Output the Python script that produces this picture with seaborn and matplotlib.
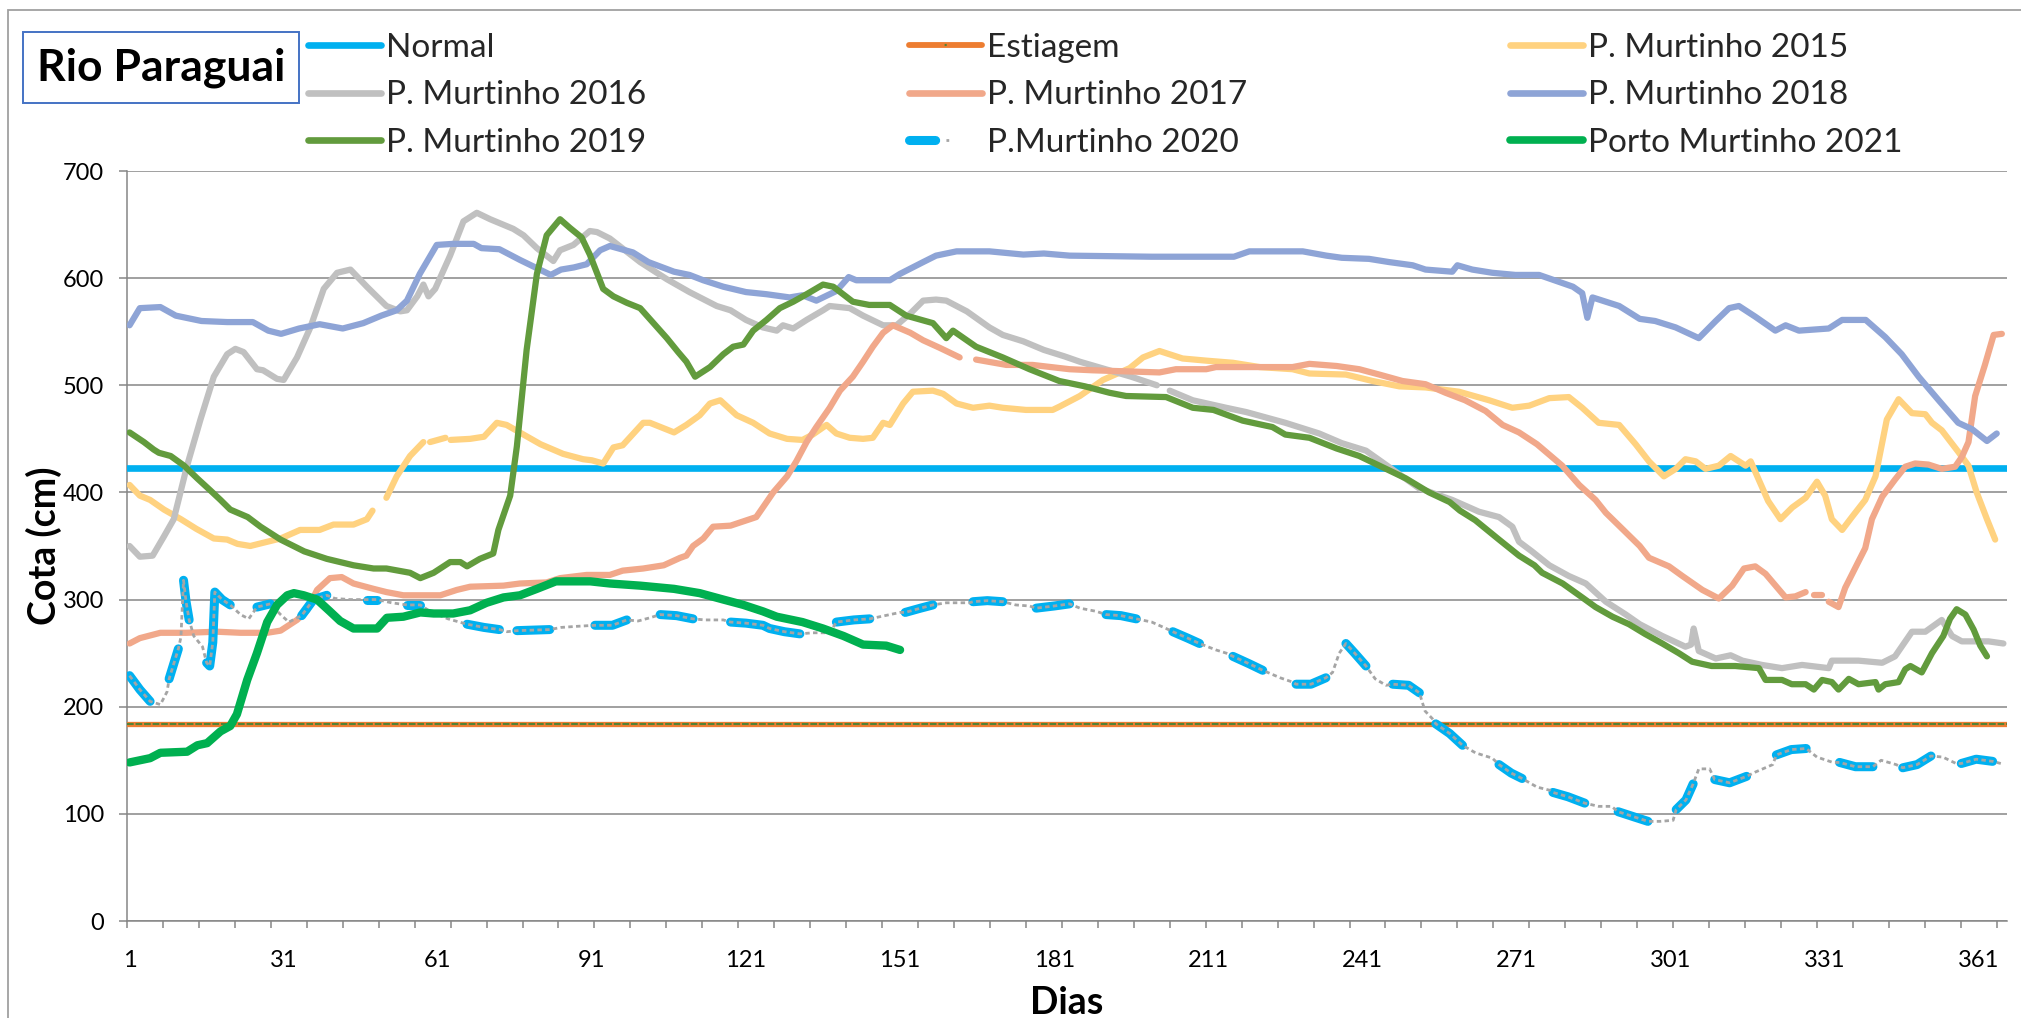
import numpy as np
import pandas as pd
import matplotlib
matplotlib.use("Agg")
import matplotlib.pyplot as plt
import seaborn as sns
from matplotlib.lines import Line2D
from matplotlib.legend_handler import HandlerTuple
from matplotlib.patches import Rectangle

nan = np.nan

# ---------------- data ----------------
titulo = "Rio Paraguai"
rotulo_y = "Cota (cm)"
rotulo_x = "Dias"
dias_rotulos = [1, 31, 61, 91, 121, 151, 181, 211, 241, 271, 301, 331, 361]
cotas_ticks = [0, 100, 200, 300, 400, 500, 600, 700]

cota_normal = 423
cota_estiagem = 184

serie_2015 = [(1,407),(3,397),(5,393),(7.7,384),(11,375),(14,366),(17.4,357),(20,356),(22,352),(24.5,350),
              (27,353),(30.4,357),(34.2,365),(38,365),(40.7,370),(44.6,370),(47.2,375),(48.3,383),(49.5,nan),(51,395),
              (53,415),(55.6,434),(58.2,447),(58.8,nan),(59.5,447),(62.5,451),(63,nan),(63.5,449),(67.3,450),(70,452),
              (72.5,465),(74.4,463),(77.7,454),(81,445),(85.4,436),(89.3,431),(91,430),(93.2,427),(95.2,442),(97,444),
              (101,465),(102.3,465),(107,456),(109.4,463),(112,472),(114,483),(116,486),(119.2,472),(122.4,465),(125.6,455),
              (129,450),(132,449),(134,454),(136.7,463),(138.6,455),(141.2,451),(143.8,450),(145.7,451),(147.7,465),(149,463),
              (151.6,483),(153.5,494),(157.4,495),(159.4,492),(162,483),(165.2,479),(168.4,481),(171,479),(175.5,477),(180.7,477),
              (182,480),(184,485),(186,490),(190.5,505),(195.7,516),(198.3,526),(201.5,532),(206,525),(210.6,523),(215.8,521),
              (221,517),(227.4,515),(230.7,511),(237.8,510),(243,504),(248.2,499),(253.3,498),(259.8,494),(265.7,486),(270.2,479),
              (273.5,481),(277.4,488),(281.2,489),(283.8,479),(287,465),(291,463),(294.2,445),(296.8,429),(299.7,415),(302,422),
              (303.9,431),(305.9,429),(307.8,422),(310.4,425),(312.7,434),(315.6,425),(316.6,429),(320,392),(322.4,375),(324.7,386),
              (327.3,395),(329.5,410),(331.1,397),(332.4,375),(334.4,365),(336.3,377),(338.9,393),(340.9,415),(343.1,468),(345.4,487),
              (348,474),(350.6,473),(351.9,465),(353.8,458),(357,438),(359,425),(360.6,400),(362.6,375),(364.2,356)]

serie_2016 = [(1,350),(3,340),(5.5,341),(7.7,359),(9.6,375),(12.2,425),(14.8,468),(17.4,508),(20,529),(21.6,534),
              (23.2,531),(25.8,515),(27,514),(29.7,506),(31,505),(33.6,526),(36.2,554),(38.8,590),(41.4,605),(44,608),
              (47.2,592),(51,574),(53.7,569),(55,570),(57,583),(58.2,594),(59.2,583),(60.5,590),(63.4,621),(66,653),
              (68.6,661),(71.2,655),(75.7,646),(77.7,640),(80.3,628),(83.5,616),(84.8,626),(87.4,631),(90.6,644),(92,643),
              (94.5,637),(100.4,615),(105.6,599),(110,587),(115.3,574),(118,570),(121,561),(124.3,554),(127,551),(128.2,556),
              (130.2,553),(132.8,561),(136,570),(137.3,574),(141.2,572),(143.8,565),(147.7,556),(150.3,556),(153,567),(155.5,579),
              (158,580),(160,579),(164,569),(168.4,554),(171,547),(175,541),(179,533),(183,527),(186,522),(191,515),
              (196,508),(201,500),(202.2,nan),(203.5,495),(208,486),(214.5,479),(218.4,475),(226,465),(232.6,455),(237,446),
              (241.7,439),(247,421),(252,404),(258.5,393),(263.7,382),(267.6,377),(270.2,368),(271.5,354),(274,345),(277.4,332),
              (281.2,322),(284.5,315),(288.4,298),(292.3,286),(295,277),(299.4,266),(303.9,256),(305,258),(305.5,273),(306.5,252),
              (309.8,245),(312.7,248),(315,243),(318.8,239),(322.7,236),(326.6,239),(331.8,236),(332.4,243),(337.6,243),(342.2,241),
              (344.7,247),(348,270),(350.6,270),(353.8,281),(355.8,266),(357.7,261),(362.9,261),(365.8,259)]

serie_2017 = [(1,259),(3,264),(7,269),(12,269),(18,270),(22.6,269),(27.8,269),(30.4,271),(33.6,281),(35.6,290),
              (37.5,309),(40,320),(42.3,321),(44.6,315),(48.5,310),(51,307),(54.3,304),(61.5,304),(64.7,309),(67.3,312),
              (73.8,313),(77,315),(82.2,316),(84.8,320),(90,323),(94.5,323),(97,327),(101,329),(105,332),(108.2,339),
              (109.4,341),(110.7,350),(112.7,357),(114.6,368),(118,369),(120.5,373),(123,377),(124.3,386),(126.3,400),(129,415),
              (130.8,429),(132.8,447),(134.7,461),(137.3,479),(139.3,495),(141.8,508),(143.8,522),(145.7,536),(147.7,549),(149.6,556),
              (153,549),(155.5,542),(158.7,535),(162.6,526),(164,nan),(165.8,524),(171.7,519),(176.8,519),(184,515),(188.5,514),
              (195,513),(201.5,512),(204.7,515),(210.6,515),(212.5,517),(221,517),(227.4,517),(230.7,520),(236,518),(240.4,515),
              (244.3,510),(248.8,504),(253.3,501),(257.2,493),(261,486),(265,476),(268.3,463),(271.5,456),(275,445),(279.9,425),
              (283.2,407),(286.4,393),(288.4,381),(291.6,366),(295,350),(296.8,339),(300.7,331),(303.3,322),(307.2,309),(310.4,301),
              (313,313),(315.3,329),(317.5,331),(319.5,324),(323.4,302),(325.3,303),(327.3,307),(328,nan),(329,304),(330.5,304),
              (331,nan),(331.8,298),(333.7,293),(335,311),(337,330),(338.9,348),(340.2,375),(342.2,396),(344.7,412),(346.7,424),
              (348.6,427),(351.2,426),(353.8,422),(356.4,424),(357.7,433),(359,447),(360.3,490),(362.2,519),(363.9,547),(365.5,548)]

serie_2018 = [(1,556),(3,572),(7,573),(10,565),(15,560),(20,559),(25,559),(28,551),(30.5,548),(34,553),
              (38,557),(42.5,553),(46.5,558),(50,565),(53,570),(55,579),(57.5,604),(60.8,631),(64,632),(68,632),
              (69.5,628),(73,627),(77,617),(80,610),(83,603),(85,608),(87.5,610),(90,613),(92.6,626),(94.5,630),
              (99,624),(102,615),(107,606),(110,603),(112.7,598),(116.6,592),(121,587),(125,585),(129.5,582),(132,584),
              (134.7,579),(138.6,588),(141,601),(142.5,598),(149,598),(151,604),(155.5,615),(158,621),(162,625),(168.4,625),
              (175,622),(179,623),(184,621),(200,620),(216,620),(219,625),(229.4,625),(234,621),(237,619),(242.3,618),
              (246.2,615),(250.8,612),(253.3,608),(258.5,606),(259.5,612),(262.4,608),(266.3,605),(270.8,603),(275.4,603),(282,592),
              (283.8,586),(284.8,563),(285.8,582),(288.4,578),(291,574),(295,562),(298,560),(302,554),(306.5,544),(309.8,560),
              (312.4,572),(314.3,574),(317.5,564),(321.4,551),(323.4,556),(326,551),(331.8,553),(334.4,561),(339,561),(342.8,545),
              (346,529),(349.3,508),(353.2,486),(357,465),(359.7,459),(362.6,448),(364.5,455)]

serie_2019 = [(1,456),(3.8,447),(5.7,440),(6.7,437),(9,434),(11.6,425),(14.2,413),(16.7,402),(18.7,393),(20.6,384),
              (24,377),(26.5,368),(30.4,356),(35,345),(39.4,338),(44.6,332),(48.5,329),(51,329),(55.6,325),(57.6,320),
              (60.2,325),(63.4,335),(65.4,335),(66.7,331),(69.2,338),(71.8,343),(72.8,365),(75.1,397),(76.4,443),(78.3,533),
              (80.3,604),(82.2,640),(84.8,655),(86.7,647),(89,638),(90.6,622),(93.2,590),(95.2,583),(97.8,577),(100.4,572),
              (103,558),(105.6,544),(107.8,531),(109.4,522),(111.1,508),(114,517),(116.6,529),(118.5,536),(120.5,538),(122.4,551),
              (125,561),(127.6,572),(130.2,578),(132.8,585),(136,594),(138,592),(141.8,578),(145,575),(149,575),(152.2,565),
              (157.4,558),(160,544),(161.3,551),(165.8,536),(171,526),(176.2,515),(182,504),(187,499),(191.8,493),(195,490),
              (202.8,489),(208,479),(212,477),(217.7,467),(223.5,461),(226,454),(230.7,451),(236,441),(240.4,434),(244.3,425),
              (249.5,413),(254,400),(258,391),(260,383),(263,374),(267.6,356),(271.5,341),(274.5,332),(276,325),(280,315),
              (283.8,302),(286.4,293),(289.7,284),(292.9,277),(296,268),(299.4,259),(302.6,250),(305.2,242),(309,238),(313.6,238),
              (318.2,236),(319.5,225),(322.7,225),(324.6,221),(327.3,221),(328.9,216),(330.5,225),(332.4,223),(333.7,216),(335.7,226),
              (337.6,221),(340.9,223),(341.5,216),(342.8,221),(345.4,223),(346.7,235),(347.7,238),(349.9,232),(351.9,250),(354.1,266),
              (355.4,282),(356.7,291),(358.4,286),(360,272),(361.3,257),(362.6,247)]

# 2020: (dia, cota, medido) -> medido=1 where the blue markers are drawn
serie_2020 = [(1,229,1),(3,216,1),(5,205,1),(7,202,0),(8.3,214,0),(8.7,226,1),(10.5,254,1),(11,265,0),(11.5,318,1),(12,298,1),
              (12.6,281,1),(13.5,266,0),(15.2,256,0),(16,241,1),(16.6,238,1),(17.2,260,1),(17.6,307,1),(19,300,1),(20.6,295,1),(22.6,286,0),
              (24.2,282,0),(25.8,293,1),(28.4,296,1),(30.4,286,0),(32,279,0),(34.5,285,1),(36.8,300,1),(39.4,304,1),(41,301,0),(44,300,0),
              (46.5,300,0),(47.2,300,1),(49.2,300,1),(52,297,0),(55,295,1),(57.6,295,1),(59.5,289,0),(63,282,0),(66.7,277,1),(70,274,1),
              (73,272,1),(74.5,270,0),(76.4,271,1),(82.8,272,1),(85,274,0),(88,275,0),(91.6,276,1),(95,276,1),(97.8,281,1),(100,280,0),
              (102.3,283,0),(104.3,286,1),(107.5,285,1),(110.7,282,1),(113,281,0),(116.6,281,0),(118,279,1),(121,278,1),(124.3,276,1),(125.6,273,1),
              (128.5,270,1),(131.5,268,1),(134,269,0),(137.3,269,0),(138.6,279,1),(142,281,1),(145.1,282,1),(148,285,0),(151,288,0),(152,288,1),
              (155,292,1),(157.4,295,1),(160,297,0),(164.5,297,0),(165.2,298,1),(168,299,1),(171,298,1),(173.5,295,0),(176.2,294,0),(177.5,292,1),
              (181,294,1),(184,296,1),(186,292,0),(189.2,289,0),(191.1,286,1),(194,285,1),(197,282,1),(200,279,0),(202.8,273,0),(204.1,270,1),
              (207,264,1),(209.3,259,1),(212.5,253,0),(214.5,250,0),(215.8,247,1),(219,240,1),(221.6,234,1),(225,227,0),(227.4,223,0),(228.1,221,1),
              (231,221,1),(233.9,227,1),(235.2,232,0),(236.5,250,0),(237.8,259,1),(239.5,250,1),(241.7,238,1),(243.5,226,0),(245.6,220,0),(246.9,221,1),
              (250,220,1),(252.1,213,1),(253.2,196,0),(254.6,189,0),(255.3,184,1),(258,175,1),(260.5,164,1),(263,157,0),(266.3,152,0),(267.6,146,1),
              (270,138,1),(272.1,133,1),(275,125,0),(277.5,122,0),(278.1,120,1),(281,116,1),(284.3,110,1),(287,107,0),(289.5,107,0),(290.8,102,1),
              (294,97,1),(296.6,93,1),(299,93,0),(301.5,94,0),(302.1,104,1),(304,113,1),(305.4,128,1),(306.5,142,0),(308.6,142,0),(309.6,132,1),
              (312.5,129,1),(315.8,135,1),(317.5,139,0),(320.9,146,0),(321.6,155,1),(324.5,160,1),(327.4,161,1),(329.5,153,0),(332.6,148,0),(333.9,148,1),
              (337,144,1),(340.4,144,1),(342,150,0),(344.9,146,0),(346.2,143,1),(349,146,1),(351.7,154,1),(354,153,0),(356.6,147,0),(357.6,147,1),
              (360.5,151,1),(363.7,149,1),(365.3,147,0)]

serie_2021 = [(1,148),(5,152),(7,157),(12.2,158),(14.2,164),(16.1,166),(18.7,177),(20.6,182),(21.9,193),(23.9,225),
              (25.8,250),(27.8,279),(29.7,295),(31.7,304),(33,306),(34.9,304),(37.5,300),(40,289),(42,280),(44.6,273),
              (49.2,273),(51.1,283),(54.3,284),(57.6,288),(60.2,287),(64,287),(67.3,290),(70.5,297),(73.8,302),(77,304),
              (80.3,310),(84,317),(90.7,317),(94.5,315),(100.4,313),(107,310),(112,306),(116.6,300),(120.5,295),(124.3,289),
              (127,284),(132,279),(136,273),(140,266),(143.8,258),(148.3,257),(151,253)]

nomes = ["Normal", "Estiagem", "P. Murtinho 2015", "P. Murtinho 2016", "P. Murtinho 2017",
         "P. Murtinho 2018", "P. Murtinho 2019", "P.Murtinho 2020", "Porto Murtinho 2021"]

# ---------------- style ----------------
C_NORMAL = "#00B0F0"
C_EST = "#ED7D31"
C_EST_G = "#548235"
C_2015 = "#FFD280"
C_2016 = "#C0C0C0"
C_2017 = "#F1A88A"
C_2018 = "#8EA4D6"
C_2019 = "#629B3D"
C_2020 = "#00B0F0"
C_2020_G = "#A5A5A5"
C_2021 = "#00B050"
C_GRID = "#868686"

sns.set_theme(style="white")
plt.rcParams["font.family"] = ["Lato", "DejaVu Sans"]

W, H = 2021, 1018
fig = plt.figure(figsize=(W / 100, H / 100), dpi=100)
ax_l, ax_r, ax_t, ax_b = 127, 2007, 171, 921
ax = fig.add_axes([ax_l / W, 1 - ax_b / H, (ax_r - ax_l) / W, (ax_b - ax_t) / H])


def frame(serie):
    cols = ["dia", "cota"] + (["medido"] if len(serie[0]) == 3 else [])
    return pd.DataFrame(serie, columns=cols)


def tracar(df, cor, lw, z, **kw):
    d = df[["dia", "cota"]].copy()
    d["seg"] = d["cota"].isna().cumsum()
    d = d.dropna()
    sns.lineplot(data=d, x="dia", y="cota", units="seg", estimator=None, sort=False,
                 color=cor, lw=lw, ax=ax, legend=False, zorder=z, **kw)


ax.axhline(cota_normal, color=C_NORMAL, lw=4.8, zorder=3)
ax.axhline(cota_estiagem, color=C_EST, lw=3.8, zorder=3)
ax.axhline(cota_estiagem, color=C_EST_G, lw=1.5, ls=(0, (3.2, 0.9)), zorder=3.1)

LW = 4.5
tracar(frame(serie_2015), C_2015, LW, 4, solid_capstyle="round")
tracar(frame(serie_2016), C_2016, LW, 5, solid_capstyle="round")
tracar(frame(serie_2017), C_2017, LW, 6, solid_capstyle="round")
tracar(frame(serie_2018), C_2018, LW, 7, solid_capstyle="round")
tracar(frame(serie_2019), C_2019, LW, 8, solid_capstyle="round")

df20 = frame(serie_2020)
df20_azul = df20.copy()
df20_azul.loc[df20_azul["medido"] == 0, "cota"] = np.nan
tracar(df20_azul, C_2020, 6.5, 9, solid_capstyle="round")
tracar(df20, C_2020_G, 2.0, 9.5, linestyle=(0, (1.6, 1.2)))

tracar(frame(serie_2021), C_2021, 6.0, 10, solid_capstyle="round")

# ---------------- axes ----------------
ax.set_xlim(0.5, 366.5)
ax.set_ylim(0, 700)
ax.set_yticks(cotas_ticks)
ax.set_xticks(dias_rotulos)
ax.set_xticks(np.arange(0.5, 367, 7), minor=True)
ax.tick_params(axis="x", which="major", length=0, pad=21, labelsize=17, labelcolor="black")
ax.tick_params(axis="x", which="minor", length=5, width=1.1, color=C_GRID, direction="out", bottom=True)
ax.tick_params(axis="y", which="major", length=5.5, width=1.1, color=C_GRID, direction="out",
               left=True, pad=11, labelsize=17, labelcolor="black")
ax.grid(axis="y", color=C_GRID, lw=1.1)
ax.grid(axis="x", visible=False)
for s in ["top", "right"]:
    ax.spines[s].set_visible(False)
for s in ["left", "bottom"]:
    ax.spines[s].set_color(C_GRID)
    ax.spines[s].set_linewidth(1.1)
ax.set_axisbelow(True)

ax.set_ylabel(rotulo_y, fontsize=27, fontweight="bold", color="black")
ax.yaxis.set_label_coords((62 - ax_l) / (ax_r - ax_l), 0.5)
ax.set_xlabel(rotulo_x, fontsize=27, fontweight="bold", color="black")
ax.xaxis.set_label_coords(0.5, (ax_b - 986) / (ax_b - ax_t))

# ---------------- outer border & title box ----------------
fig.patches.append(Rectangle((8 / W, -0.05), 1.2, 1.05 - 10 / H, transform=fig.transFigure,
                             fill=False, ec="#A0A0A0", lw=1.3))
fig.patches.append(Rectangle((23 / W, 1 - 103 / H), (299 - 23) / W, (103 - 32) / H,
                             transform=fig.transFigure, fc="white", ec="#4472C4", lw=1.4))
fig.text(161 / W, 1 - 68 / H, titulo, ha="center", va="center", fontsize=32,
         fontweight="bold", color="black")

# ---------------- legend (three columns, row-wise order like the original) ----------------
h_normal = Line2D([], [], color=C_NORMAL, lw=4.8, solid_capstyle="round")
h_est = (Line2D([], [], color=C_EST, lw=4.2, solid_capstyle="round"),
         Line2D([], [], color=C_EST_G, lw=1.5, linestyle=(33.9, (1, 50))))
h_15 = Line2D([], [], color=C_2015, lw=4.8, solid_capstyle="round")
h_16 = Line2D([], [], color=C_2016, lw=4.8, solid_capstyle="round")
h_17 = Line2D([], [], color=C_2017, lw=4.8, solid_capstyle="round")
h_18 = Line2D([], [], color=C_2018, lw=4.8, solid_capstyle="round")
h_19 = Line2D([], [], color=C_2019, lw=4.8, solid_capstyle="round")
h_20 = (Line2D([], [], color=C_2020, lw=6.5, solid_capstyle="round", dash_capstyle="round",
               linestyle=(0, (2.9, 20))),
        Line2D([], [], color=C_2020_G, lw=2.0, linestyle=(37.7, (1, 50))))
h_21 = Line2D([], [], color=C_2021, lw=5.5, solid_capstyle="round")

colunas = [([h_normal, h_16, h_19], [nomes[0], nomes[3], nomes[6]], 308),
           ([h_est, h_17, h_20], [nomes[1], nomes[4], nomes[7]], 909),
           ([h_15, h_18, h_21], [nomes[2], nomes[5], nomes[8]], 1510)]
for hs, ls, x0 in colunas:
    fig.legend(hs, ls, loc="upper left", bbox_to_anchor=(x0 / W, 1 - 33 / H),
               frameon=False, fontsize=24, handlelength=2.2, handletextpad=0.15,
               labelspacing=0.52, borderpad=0, borderaxespad=0,
               handler_map={tuple: HandlerTuple(ndivide=1, pad=0)})

fig.savefig("out.png", dpi=100)
